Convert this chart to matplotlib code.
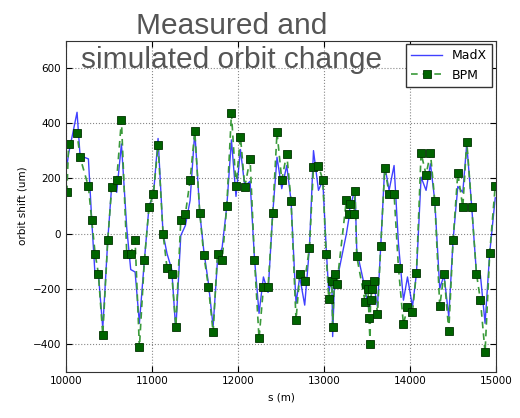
import numpy as np
import matplotlib
matplotlib.use('Agg')
import matplotlib.pyplot as plt

# BPM positions along the ring (m)
s_pos = [10010, 10030, 10128, 10163, 10260, 10299, 10338, 10376, 10427, 10485,
         10531, 10589, 10644, 10706, 10752, 10803, 10853, 10911, 10965, 11016,
         11070, 11128, 11174, 11229, 11276, 11334, 11388, 11442, 11497, 11555,
         11601, 11656, 11710, 11761, 11815, 11869, 11923, 11976, 12028, 12078,
         12140, 12191, 12244, 12295, 12349, 12403, 12453, 12508, 12566, 12616,
         12674, 12717, 12775, 12830, 12877, 12935, 12985, 13024, 13055, 13090,
         13100, 13123, 13150, 13260, 13291, 13299, 13349, 13360, 13380, 13477,
         13493, 13510, 13523, 13535, 13540, 13560, 13581, 13621, 13659, 13706,
         13756, 13814, 13865, 13923, 13970, 14028, 14074, 14128, 14186, 14237,
         14287, 14345, 14395, 14450, 14500, 14555, 14613, 14659, 14717, 14772,
         14818, 14872, 14926, 14990]

# measured orbit shift at the BPMs (um)
bpm = [150, 325, 364, 277, 171, 48, -72, -145, -367, -24,
       169, 195, 412, -72, -72, -24, -412, -96, 96, 145,
       322, 0, -124, -145, -337, 48, 72, 193, 371, 75,
       -76, -193, -358, -72, -96, 99, 436, 171, 352, 169,
       271, -94, -380, -195, -195, 75, 367, 195, 289, 120,
       -313, -148, -171, -51, 243, 246, 195, -72, -237, -171,
       -337, -147, -181, 123, 70, 106, 70, 154, -82, -246,
       -182, -200, -306, -400, -242, -200, -172, -290, -46, 237,
       145, 145, -124, -329, -265, -283, -142, 292, 214, 292,
       120, -263, -145, -353, -24, 220, 96, 334, 96, -145,
       -241, -430, -70, 173]

# MadX model orbit shift at the same positions (um)
madx = [245, 290, 440, 283, 271, 48, -154, -145, -343, -24,
        175, 150, 325, 20, -130, -139, -325, -96, 100, 140,
        345, 0, -72, -130, -350, -7, 30, 120, 372, 75,
        -60, -181, -337, -96, -50, 99, 340, 135, 305, 172,
        190, -90, -289, -157, -213, 72, 277, 163, 247, 120,
        -253, -157, -259, -51, 301, 157, 193, -48, -217, -150,
        -373, -160, -169, 0, 60, 90, 150, 165, -60, -200,
        -230, -250, -280, -270, -240, -200, -190, -265, -45, 247,
        157, 247, -36, -241, -157, -265, -145, 205, 157, 253,
        120, -199, -151, -301, -24, 171, 150, 325, 96, -145,
        -151, -325, -70, 130]

fig = plt.figure(figsize=(5.2, 4.18), dpi=100)
ax = fig.add_axes([0.127, 0.111, 0.827, 0.792])

ax.plot(s_pos, madx, color='#0000ff', alpha=0.75, lw=1.0, label='MadX')
ax.plot(s_pos, bpm, color='#3a9a3a', ls='--', lw=1.2, dashes=(4, 3),
        marker='s', ms=5.5, mfc='#006400', mec='#003300', mew=0.6, label='BPM')

ax.set_xlim(10000, 15000)
ax.set_ylim(-500, 700)
ax.set_xticks(np.arange(10000, 15001, 1000))
ax.set_yticks(np.arange(-400, 601, 200))
ax.tick_params(direction='in', labelsize=7.5, length=4, top=True, right=True)
ax.grid(True, color='#888888', ls=':', lw=0.8)
for sp in ax.spines.values():
    sp.set_color('#333333')

ax.set_xlabel('s (m)', fontsize=7.5)
ax.set_ylabel('orbit shift (um)', fontsize=7.5)

leg = ax.legend(loc='upper right', fontsize=9, fancybox=False, framealpha=1,
                borderaxespad=0.3, handlelength=2.5)
leg.get_frame().set_edgecolor('#333333')

fig.text(0.446, 0.972, 'Measured and\nsimulated orbit change', ha='center', va='top',
         fontsize=21.5, color='#555555', family='Liberation Sans', linespacing=1.3)

fig.savefig('out.png', dpi=100)
